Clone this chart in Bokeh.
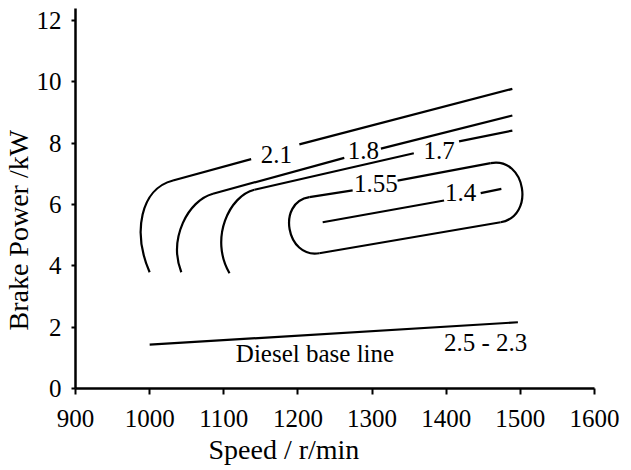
from bokeh.core.properties import value
from bokeh.embed import file_html
from bokeh.models import ColumnDataSource, Range1d, Title
from bokeh.plotting import figure
from bokeh.resources import INLINE

FONT = "Liberation Serif"

# axis ticks
x_ticks = [900, 1000, 1100, 1200, 1300, 1400, 1500, 1600]
y_ticks = [0, 2, 4, 6, 8, 10, 12]

# curved ends of the BSFC contours (cubic Bezier: start, two controls, end)
arc_level = ["2.1", "1.8", "1.7", "1.55 left", "1.55 right"]
arc_x0 = [1000.0, 1042.7, 1107.7, 1215.4, 1460.0]
arc_y0 = [3.79, 3.79, 3.76, 6.24, 7.35]
arc_cx0 = [976.7, 1025.2, 1080.4, 1171.0, 1507.1]
arc_cy0 = [5.09, 4.89, 4.89, 6.07, 7.56]
arc_cx1 = [987.5, 1051.7, 1107.7, 1184.4, 1520.5]
arc_cy1 = [6.51, 6.13, 6.29, 4.23, 5.62]
arc_x1 = [1031.5, 1085.4, 1141.3, 1228.8, 1473.4]
arc_y1 = [6.78, 6.35, 6.48, 4.41, 5.42]

# straight runs of the contours, broken where the value is written
seg_level = ["2.1", "2.1", "1.8", "1.8", "1.7", "1.7",
             "1.55", "1.55", "1.55", "1.4", "1.4"]
seg_x0 = [1031.5, 1201.9, 1085.4, 1311.9, 1141.3, 1417.3,
          1215.4, 1334.4, 1473.4, 1233.4, 1446.5]
seg_y0 = [6.78, 7.96, 6.35, 7.82, 6.48, 8.06,
          6.24, 6.78, 5.42, 5.42, 6.37]
seg_x1 = [1136.9, 1489.2, 1262.5, 1489.2, 1356.3, 1489.2,
          1273.8, 1460.0, 1228.8, 1397.1, 1474.4]
seg_y1 = [7.48, 9.77, 7.52, 8.90, 7.67, 8.41,
          6.46, 7.35, 4.41, 6.13, 6.51]

# contour values written in the gaps
lab_text = ["2.1", "1.8", "1.7", "1.55", "1.4"]
lab_x = [1171.0, 1288.3, 1390.4, 1305.1, 1419.6]
lab_y = [7.64, 7.76, 7.76, 6.68, 6.40]

# diesel-only reference line
base_x = [1000.0, 1496.7]
base_y = [1.43, 2.16]
base_text = ["Diesel base line", "2.5 - 2.3"]
base_tx = [1223.0, 1453.2]
base_ty = [1.13, 1.51]

p = figure(
    width=631, height=470,
    x_range=Range1d(900, 1600), y_range=Range1d(0, 12.39),
    output_backend="svg", toolbar_location=None,
    min_border_left=74, min_border_right=37,
    min_border_top=8, min_border_bottom=82,
    background_fill_color="white", border_fill_color="white",
)
p.outline_line_color = None
p.xgrid.visible = False
p.ygrid.visible = False

for ax in (p.xaxis[0], p.yaxis[0]):
    ax.axis_line_width = 2.5
    ax.axis_line_color = "black"
    ax.major_tick_line_width = 2
    ax.major_tick_line_color = "black"
    ax.major_tick_in = 0
    ax.minor_tick_line_color = None
    ax.major_label_text_font = FONT
    ax.major_label_text_font_size = "25px"
    ax.major_label_text_color = "black"

p.xaxis.ticker = x_ticks
p.yaxis.ticker = y_ticks
p.xaxis.major_tick_out = 6
p.yaxis.major_tick_out = 4
p.xaxis.major_label_standoff = 15
p.yaxis.major_label_standoff = 10

line_style = dict(line_color="black", line_width=2.2)

arcs = ColumnDataSource(dict(level=arc_level, x0=arc_x0, y0=arc_y0,
                             cx0=arc_cx0, cy0=arc_cy0, cx1=arc_cx1,
                             cy1=arc_cy1, x1=arc_x1, y1=arc_y1))
p.bezier(x0="x0", y0="y0", x1="x1", y1="y1", cx0="cx0", cy0="cy0",
         cx1="cx1", cy1="cy1", source=arcs, **line_style)

segs = ColumnDataSource(dict(level=seg_level, x0=seg_x0, y0=seg_y0,
                             x1=seg_x1, y1=seg_y1))
p.segment(x0="x0", y0="y0", x1="x1", y1="y1", source=segs, **line_style)

p.line(base_x, base_y, **line_style)

text_style = dict(text_font=value(FONT), text_font_size="25px",
                  text_color="black", text_align="center",
                  text_baseline="middle")
p.text(x=lab_x, y=lab_y, text=lab_text, **text_style)
p.text(x=base_tx, y=base_ty, text=base_text, **text_style)

# axis titles, offset along their axes
title_style = dict(text_font=FONT, text_font_size="28px",
                   text_font_style="normal", text_color="black",
                   align="left")
p.add_layout(Title(text="Speed / r/min", offset=133, standoff=4,
                   **title_style), "below")
p.add_layout(Title(text="Brake Power /kW", offset=58, standoff=0,
                   **title_style), "left")

open("out.html", "w").write(file_html(p, INLINE))
